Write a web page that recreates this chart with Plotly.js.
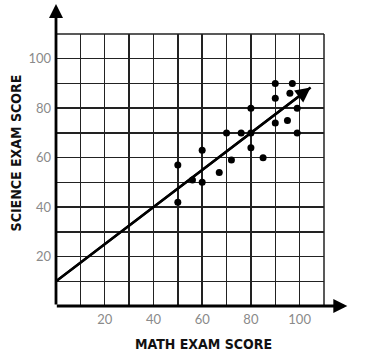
<!DOCTYPE html>
<html>
<head>
<meta charset="utf-8">
<script src="https://cdn.plot.ly/plotly-3.0.1.min.js"></script>
<style>
html,body{margin:0;padding:0;background:#fff;}
#chart{width:368px;height:364px;}
.annotation-text{font-stretch:condensed !important;}
</style>
</head>
<body>
<div id="chart"></div>
<script>
// Data
var mathScores    = [50, 50, 56, 60, 60, 67, 70, 72, 76, 80, 80, 80, 85, 90, 90, 90, 95, 96, 97, 99, 99];
var scienceScores = [57, 42, 51, 50, 63, 54, 70, 59, 70, 80, 70, 64, 60, 90, 84, 74, 75, 86, 90, 80, 70];
var trendX = [0, 104.5];
var trendY = [10, 88.4];
var gridVals = [0, 10, 20, 30, 40, 50, 60, 70, 80, 90, 100, 110];
var tickText = ['', '', '20', '', '40', '', '60', '', '80', '', '100', ''];
var xTitle = 'MATH EXAM SCORE';
var yTitle = 'SCIENCE EXAM SCORE';

var traces = [
  {x: trendX, y: trendY, mode: 'lines', type: 'scatter',
   line: {color: '#000', width: 2.5}, hoverinfo: 'skip'},
  {x: mathScores, y: scienceScores, mode: 'markers', type: 'scatter',
   marker: {color: '#000', size: 7}}
];

var axisCommon = {
  range: [0, 110], tickmode: 'array', tickvals: gridVals, ticktext: tickText,
  showgrid: true, gridcolor: '#222', gridwidth: 1.5, zeroline: false,
  showline: false, ticks: '', fixedrange: true,
  tickfont: {family: 'Lato, "Open Sans", sans-serif', size: 13, color: '#8a8a8a'}
};

var titleFont = {family: '"DejaVu Sans Condensed", "DejaVu Sans", sans-serif', size: 14, color: '#111'};

var layout = {
  width: 368, height: 364,
  margin: {l: 56, r: 44, t: 34, b: 58},
  paper_bgcolor: '#fff', plot_bgcolor: '#fff',
  showlegend: false,
  xaxis: Object.assign({}, axisCommon, {ticklabelstandoff: 4}),
  yaxis: Object.assign({}, axisCommon, {ticklabelstandoff: 4}),
  shapes: [
    {type: 'line', xref: 'paper', yref: 'paper', x0: 1, x1: 1, y0: 0, y1: 1, line: {color: '#222', width: 1.5}},
    {type: 'line', xref: 'paper', yref: 'paper', x0: 0, x1: 1, y0: 1, y1: 1, line: {color: '#222', width: 1.5}}
  ],
  annotations: [
    // y axis arrow
    {xref: 'paper', yref: 'paper', x: 0, y: 1.11, ax: 0, ay: 302,
     text: '', showarrow: true, arrowhead: 2, arrowsize: 1, arrowwidth: 2.8, arrowcolor: '#000'},
    // x axis arrow
    {xref: 'paper', yref: 'paper', x: 1.087, y: 0, ax: -292, ay: 0,
     text: '', showarrow: true, arrowhead: 2, arrowsize: 1, arrowwidth: 2.8, arrowcolor: '#000'},
    // trend line arrowhead
    {xref: 'x', yref: 'y', x: trendX[1], y: trendY[1], axref: 'x', ayref: 'y', ax: trendX[0], ay: trendY[0],
     text: '', showarrow: true, arrowhead: 2, arrowsize: 1.2, arrowwidth: 2.5, arrowcolor: '#000'},
    {xref: 'paper', yref: 'paper', x: 0.552, y: -0.14, yanchor: 'middle', xanchor: 'center',
     text: '<b>' + xTitle + '</b>', showarrow: false, font: titleFont},
    {xref: 'paper', yref: 'paper', x: -0.151, y: 0.563, xanchor: 'center', yanchor: 'middle', textangle: -90,
     text: '<b>' + yTitle + '</b>', showarrow: false, font: titleFont}
  ]
};

Plotly.newPlot('chart', traces, layout, {displayModeBar: false, staticPlot: true});
</script>
</body>
</html>
